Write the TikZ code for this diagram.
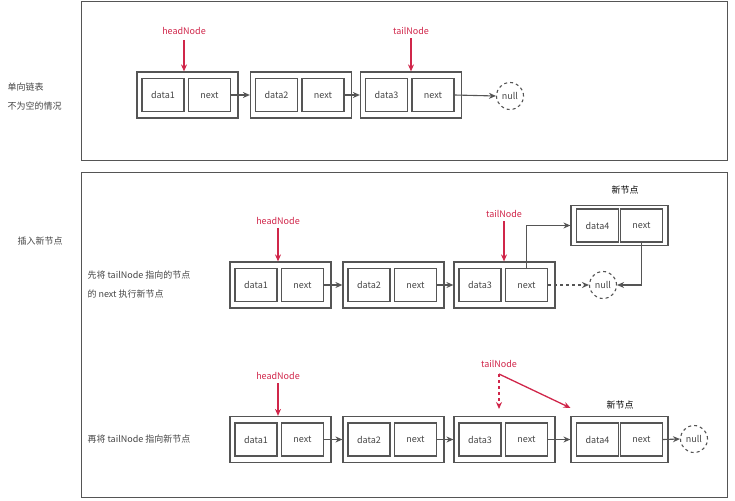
\documentclass[tikz,border=0pt]{standalone}
\usepackage{fontspec}
\setmainfont{Noto Sans CJK SC}
\usetikzlibrary{arrows.meta,positioning}
\definecolor{ln}{HTML}{555555}
\definecolor{rd}{HTML}{D0264A}
\begin{document}
\begin{tikzpicture}[x=1pt,y=-1pt,font=\fontsize{9}{11}\selectfont,
 outer/.style={draw=ln,line width=1.2pt,minimum width=101pt,minimum height=46pt,inner sep=0},
 cell/.style={draw=ln,line width=1.2pt,minimum width=42pt,minimum height=33pt,inner sep=0,text=ln!80!black},
 frame/.style={draw=ln,line width=1pt},
 arr/.style={draw=ln,line width=1.1pt,-{Stealth[length=7pt,width=6pt]}},
 rarr/.style={draw=rd,line width=1.3pt,-{Stealth[length=7pt,width=6pt]}},
 nul/.style={circle,draw=ln,dashed,line width=1.1pt,minimum size=27pt,inner sep=0,text=ln!80!black},
 red/.style={text=rd},
 lab/.style={text=ln!80!black,align=left,anchor=west}]
\useasboundingbox (0,0) rectangle (735,500);
\newcommand{\lnode}[4]{%
 \node[outer] (#1) at (#2,#3) {};
 \node[cell] (#1d) at ([xshift=-24.5pt]#1.center) {#4};
 \node[cell] (#1n) at ([xshift=22pt]#1.center) {next};}
\draw[frame] (81,2) rectangle (727,160);
\draw[frame] (81,172) rectangle (727,497);
\node[lab] (t1) at (4,87) {单向链表};
\node[lab] (t2) at (4,106) {不为空的情况};
\node[lab] (t3) at (14,241) {插入新节点};
\node[lab] (t4) at (84,275) {先将 tailNode 指向的节点};
\node[lab] (t5) at (84,294) {的 next 执行新节点};
\node[lab] (t6) at (84,439) {再将 tailNode 指向新节点};
% row 1
\lnode{a1}{187.5}{95}{data1}
\lnode{a2}{301}{95}{data2}
\lnode{a3}{411}{95}{data3}
\node[nul] (an) at (510,96) {null};
\draw[arr] (a1n.east) -- (a2.west);
\draw[arr] (a2n.east) -- (a3.west);
\draw[arr] (a3n.east) -- (an.west);
\node[red] (ah) at (184,31) {headNode};
\node[red] (at) at (411,31) {tailNode};
\draw[rarr] (184,40) -- (a1.north -| 184,0);
\draw[rarr] (at.south) -- (a3.north);
% row 2
\lnode{b1}{280.5}{285}{data1}
\lnode{b2}{393.5}{285}{data2}
\lnode{b3}{504.5}{285}{data3}
\node[nul] (bn) at (603,285) {null};
\node[outer,minimum width=97pt,minimum height=40pt] (b4) at (619.5,225.5) {};
\node[cell] (b4d) at ([xshift=-22pt]b4.center) {data4};
\node[cell] (b4n) at ([xshift=22pt]b4.center) {next};
\node (b4l) at (625,190) {新节点};
\draw[arr] (b1n.east) -- (b2.west);
\draw[arr] (b2n.east) -- (b3.west);
\draw[arr,dashed] (b3n.east) -- (bn.west);
\draw[arr] (b3n.north) |- (b4.west);
\draw[arr] (b4n.south) |- (bn.east);
\node[red] (bh) at (278,221) {headNode};
\node[red] (bt) at (504,214) {tailNode};
\draw[rarr] (bh.south) -- (bh.south |- b1.north);
\draw[rarr] (bt.south) -- (bt.south |- b3.north);
% row 3
\lnode{c1}{280.5}{439.5}{data1}
\lnode{c2}{393.5}{439.5}{data2}
\lnode{c3}{504.5}{439.5}{data3}
\node[outer,minimum width=97pt] (c4) at (619.5,439.5) {};
\node[cell] (c4d) at ([xshift=-22pt]c4.center) {data4};
\node[cell] (c4n) at ([xshift=22pt]c4.center) {next};
\node (c4l) at (620,405) {新节点};
\node[nul] (cn) at (694,439) {null};
\draw[arr] (c1n.east) -- (c2.west);
\draw[arr] (c2n.east) -- (c3.west);
\draw[arr] (c3n.east) -- (c4.west);
\draw[arr] (c4n.east) -- (cn.west);
\node[red] (ch) at (278,376) {headNode};
\node[red] (ct) at (499,364) {tailNode};
\draw[rarr] (ch.south) -- (ch.south |- c1.north);
\coordinate (ctb) at (499,374);
\draw[rarr,dashed] (ctb) -- (499,409);
\draw[rarr] (ctb) -- ([yshift=8pt]c4.north west);
\end{tikzpicture}
\end{document}
